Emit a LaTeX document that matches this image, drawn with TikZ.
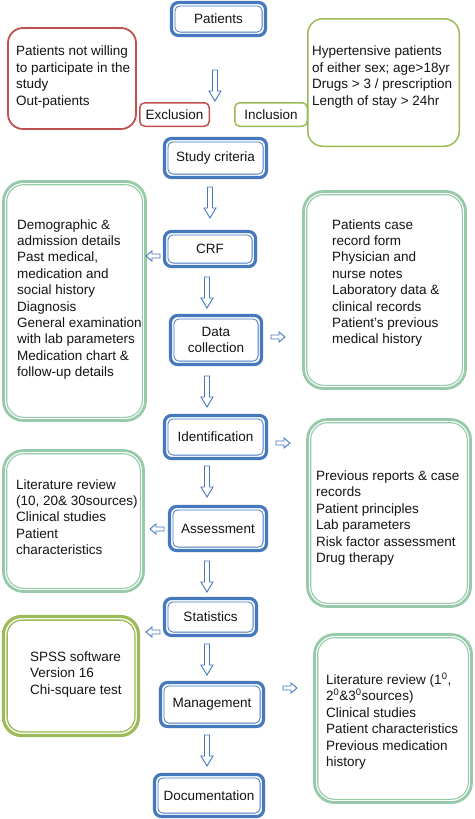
\documentclass[tikz,border=0pt]{standalone}
\usepackage{fontspec}
\setmainfont{Liberation Sans}
\usetikzlibrary{calc}
\definecolor{bblue}{RGB}{70,120,190}
\definecolor{pgreen}{RGB}{150,202,168}
\definecolor{rred}{RGB}{192,80,77}
\definecolor{ygreen}{RGB}{155,187,89}
\definecolor{txt}{RGB}{20,20,20}
\begin{document}
\begin{tikzpicture}[x=1pt,y=-1pt,
  every node/.style={font=\fontsize{13.5pt}{16.4pt}\selectfont, text=txt},
  stepbox/.style={draw=bblue, line width=3.2pt, rounded corners=7pt, fill=white, inner sep=0pt, outer sep=0pt, align=center},
  bigbox/.style={draw=pgreen, line width=2.8pt, rounded corners=20pt, inner sep=0pt, outer sep=0pt},
  spssbox/.style={draw=ygreen, line width=3.2pt, rounded corners=18pt, inner sep=0pt, outer sep=0pt},
  redbox/.style={draw=rred, line width=1.8pt, rounded corners=15pt, inner sep=0pt, outer sep=0pt},
  inbox/.style={draw=ygreen, line width=1.5pt, rounded corners=15pt, inner sep=0pt, outer sep=0pt},
  tagred/.style={draw=rred, line width=1.5pt, rounded corners=5pt, fill=white, inner sep=0pt, outer sep=0pt},
  taggreen/.style={draw=ygreen, line width=1.5pt, rounded corners=5pt, fill=white, inner sep=0pt, outer sep=0pt},
  txtblock/.style={align=left, inner sep=0pt, anchor=west},
  arrline/.style={draw=bblue, line width=0.9pt, fill=white, line join=miter},
  varr/.pic={\path[arrline] (-2.5,0) -- (-2.5,21) -- (-6,21) -- (0,31) -- (6,21) -- (2.5,21) -- (2.5,0) -- cycle;},
  rarr/.pic={\path[arrline] (0,-2) -- (8,-2) -- (8,-5) -- (14,0) -- (8,5) -- (8,2) -- (0,2) -- cycle;},
  larr/.pic={\path[arrline] (0,-2) -- (-8,-2) -- (-8,-5) -- (-14,0) -- (-8,5) -- (-8,2) -- (0,2) -- cycle;}
]
\useasboundingbox (0,0) rectangle (474,819);
\fill[white] (0,0) rectangle (474,819);

% top exclusion / inclusion
\node[redbox, minimum width=128pt, minimum height=101pt] (exd) at (72,78.5) {};
\node[txtblock] (exdtxt) at (16,77) {Patients not willing\\to participate in the\\study\\Out-patients};
\node[tagred, minimum width=69.5pt, minimum height=23.5pt] (excl) at (174.5,114.5) {Exclusion};

\node[inbox, minimum width=151.5pt, minimum height=127.5pt] (ind) at (383.5,82.5) {};
\node[txtblock] (indtxt) at (312,77) {Hypertensive patients\\of either sex; age>18yr\\Drugs > 3 / prescription\\Length of stay > 24hr};
\node[taggreen, minimum width=72.5pt, minimum height=23.5pt] (incl) at (271,114.5) {Inclusion};

% main steps
\node[stepbox, minimum width=94pt, minimum height=33pt] (pat) at (218.5,19) {Patients};
\node[stepbox, minimum width=102pt, minimum height=39pt] (sc) at (215.5,158) {Study criteria};
\node[stepbox, minimum width=91pt, minimum height=35pt] (crf) at (210,249) {CRF};
\node[stepbox, minimum width=91pt, minimum height=49pt] (dc) at (216,340) {Data\\collection};
\node[stepbox, minimum width=102pt, minimum height=43pt] (idn) at (215.5,437) {Identification};
\node[stepbox, minimum width=97pt, minimum height=44pt] (ass) at (218,528.5) {Assessment};
\node[stepbox, minimum width=92pt, minimum height=37pt] (sta) at (210.5,617) {Statistics};
\node[stepbox, minimum width=103pt, minimum height=44pt] (mgt) at (212,704.5) {Management};
\node[stepbox, minimum width=109pt, minimum height=42pt] (doc) at (209,795.5) {Documentation};
\foreach \n in {pat,sc,crf,dc,idn,ass,sta,mgt,doc}
  \draw[bblue, line width=0.8pt, rounded corners=5pt] ([xshift=3.4pt,yshift=-3.4pt]\n.north west) rectangle ([xshift=-3.4pt,yshift=3.4pt]\n.south east);

% detail boxes
\node[bigbox, minimum width=142pt, minimum height=239pt] (lg1) at (74.5,301) {};
\node[txtblock] (lg1txt) at (17,299.5) {Demographic \&\\admission details\\Past medical,\\medication and\\social history\\Diagnosis\\General examination\\with lab parameters\\Medication chart \&\\follow-up details};
\node[bigbox, minimum width=162pt, minimum height=197pt] (rg1) at (384.5,290) {};
\node[txtblock] (rg1txt) at (332,283) {Patients case\\record form\\Physician and\\nurse notes\\Laboratory data \&\\clinical records\\Patient's previous\\medical history};
\node[bigbox, minimum width=163pt, minimum height=187pt] (rg2) at (389,513) {};
\node[txtblock] (rg2txt) at (316,518) {Previous reports \& case\\records\\Patient principles\\Lab parameters\\Risk factor assessment\\Drug therapy};
\node[bigbox, minimum width=140pt, minimum height=141pt] (lg2) at (73.5,521) {};
\node[txtblock] (lg2txt) at (16,517) {Literature review\\(10, 20\& 30sources)\\Clinical studies\\Patient\\characteristics};
\node[spssbox, minimum width=135pt, minimum height=119pt] (sp) at (71,676) {};
\node[txtblock] (sptxt) at (30,674.5) {SPSS software\\Version 16\\Chi-square test};
\node[bigbox, minimum width=157pt, minimum height=168pt] (rg3) at (393,718.5) {};
\node[txtblock] (rg3txt) at (326,721) {Literature review (1\textsuperscript{0},\\2\textsuperscript{0}\&3\textsuperscript{0}sources)\\Clinical studies\\Patient characteristics\\Previous medication\\history};
\foreach \n in {lg1,rg1,rg2,lg2,rg3}
  \draw[pgreen, line width=1.1pt, rounded corners=17pt] ([xshift=3.2pt,yshift=-3.2pt]\n.north west) rectangle ([xshift=-3.2pt,yshift=3.2pt]\n.south east);
\draw[ygreen, line width=1.3pt, rounded corners=15pt] ([xshift=3.6pt,yshift=-3.6pt]sp.north west) rectangle ([xshift=-3.6pt,yshift=3.6pt]sp.south east);

% arrows
\pic at (215,70) {varr};
\pic at (210,187) {varr};
\pic at (207,277) {varr};
\pic at (207,376) {varr};
\pic at (207,466) {varr};
\pic at (207,561) {varr};
\pic at (207,644) {varr};
\pic at (207,735) {varr};
\pic at (160,256) {larr};
\pic at (164,529) {larr};
\pic at (160,632) {larr};
\pic at (271,337) {rarr};
\pic at (276,443) {rarr};
\pic at (283,688) {rarr};
\end{tikzpicture}
\end{document}
